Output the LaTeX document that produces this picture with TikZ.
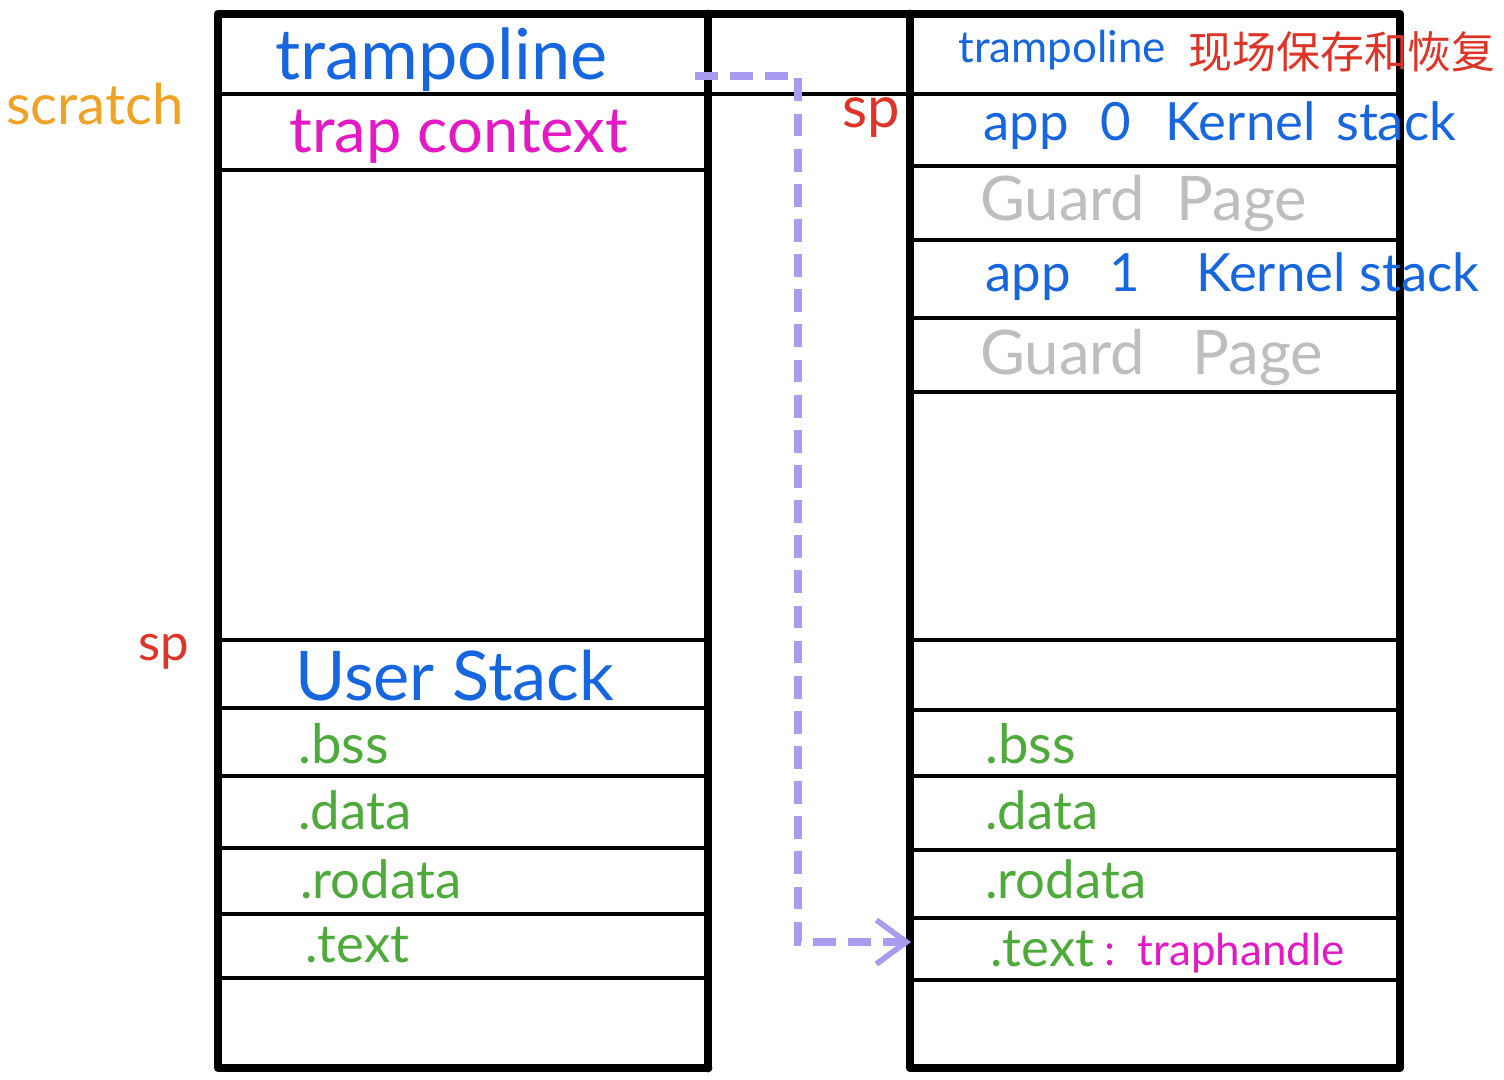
\documentclass[tikz,border=0pt]{standalone}
\usepackage{fontspec}
\setmainfont{Lato}
\newfontfamily\cjk{Noto Sans CJK SC}
\usetikzlibrary{arrows.meta}
\definecolor{hblue}{RGB}{22,102,224}
\definecolor{hmag}{RGB}{228,24,196}
\definecolor{hgreen}{RGB}{78,170,58}
\definecolor{hred}{RGB}{222,52,40}
\definecolor{horange}{RGB}{240,162,36}
\definecolor{hgray}{RGB}{190,190,190}
\definecolor{hpurple}{RGB}{168,155,240}
\tikzset{
  outerline/.style={line width=5pt, line join=round, line cap=round},
  divline/.style={line width=2.3pt},
  lbl/.style={anchor=west, inner sep=0pt},
  fs/.style={font=\fontsize{#1}{#1}\selectfont},
  linkarrow/.style={hpurple, line width=5pt, dash pattern=on 13pt off 7pt,
     -{Straight Barb[length=17pt, width=25pt, line width=3.2pt]}},
}
\begin{document}
\begin{tikzpicture}[x=0.02cm, y=-0.02cm]
\useasboundingbox (0,0) rectangle (1504,1079);
\fill[white] (0,0) rectangle (1504,1079);
% dividers left column
\foreach \yy in {170,640,708,776,848,914,978}
  \draw[divline] (218,\yy) -- (708,\yy);
% dividers right column
\foreach \yy in {166,240,318,392,640,710,776,850,918,980}
  \draw[divline] (910,\yy) -- (1400,\yy);
% full-width line
\draw[divline] (218,94) -- (1400,94);
% outer frames
\draw[outerline] (708,1068) -- (218,1068) -- (218,14) -- (1400,14) -- (1400,1068) -- (910,1068) -- (910,14);
\draw[outerline] (708,14) -- (708,1068);

% left column labels
\node[lbl, fs=40pt, hblue] (ltramp) at (275,60) {trampoline};
\node[lbl, fs=36pt, hmag] (ltrap) at (289,137) {trap context};
\node[lbl, fs=39pt, hblue] (luser) at (295,676) {User Stack};
\node[lbl, fs=31pt, hgreen] (lbss) at (298,744) {.bss};
\node[lbl, fs=30pt, hgreen] (ldata) at (298,810) {.data};
\node[lbl, fs=30pt, hgreen] (lrodata) at (300,879) {.rodata};
\node[lbl, fs=30pt, hgreen] (ltext) at (305,945) {.text};

% right column labels
\node[lbl, fs=25pt, hblue] (rtramp) at (958,50) {trampoline};
\node[lbl, fs=25pt, hred] (rcn) at (1188,52) {\cjk 现场保存和恢复};
\node[lbl, fs=30pt, hblue] (rk0) at (983,126) {app\hspace{18pt}0\hspace{20pt}Kernel\hspace{4pt} stack};
\node[lbl, fs=35pt, hgray] (rg0) at (980,203) {Guard\ \ Page};
\node[lbl, fs=30pt, hblue] (rk1) at (985,277) {app\hspace{22pt}1\hspace{32pt}Kernel stack};
\node[lbl, fs=35pt, hgray] (rg1) at (980,357) {Guard\ \ \ Page};
\node[lbl, fs=31pt, hgreen] (rbss) at (985,744) {.bss};
\node[lbl, fs=30pt, hgreen] (rdata) at (985,810) {.data};
\node[lbl, fs=30pt, hgreen] (rrodata) at (985,879) {.rodata};
\node[lbl, fs=30pt, hgreen] (rtext) at (990,949) {.text};
\node[lbl, fs=25pt, hmag] (rtrap) at (1104,953) {:\ \ traphandle};

% outside labels
\node[lbl, fs=32pt, horange] (scratch) at (6,104) {scratch};
\node[lbl, fs=29pt, hred] (sp1) at (138,652) {sp};
\node[lbl, fs=33pt, hred] (sp2) at (842,118) {sp};

% dashed link arrow
\coordinate (aStart) at (695,76);
\coordinate (aBend) at (798,0);
\coordinate (aEnd) at (911,942);
\draw[linkarrow] (aStart) -- (aStart -| aBend) |- (aEnd);
\end{tikzpicture}
\end{document}
